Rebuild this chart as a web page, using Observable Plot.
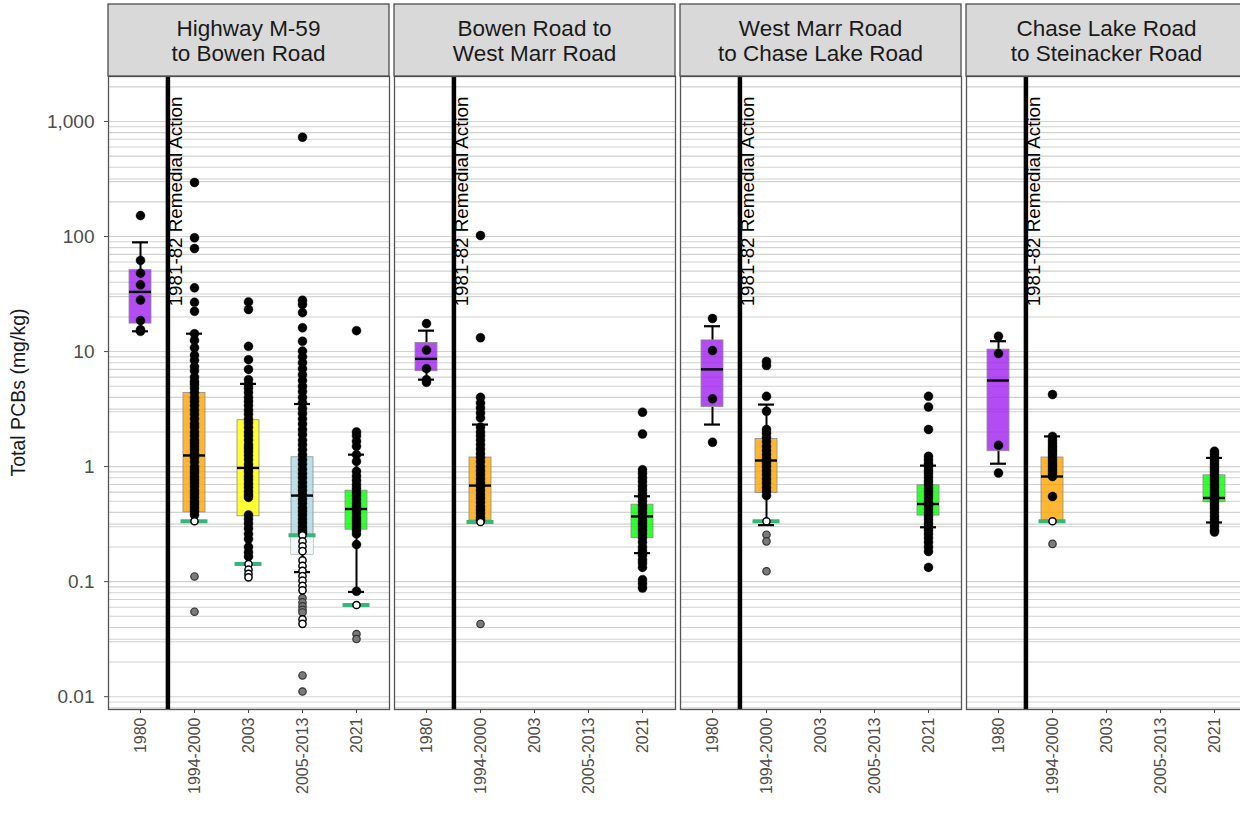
<!DOCTYPE html>
<html><head><meta charset="utf-8">
<script src="https://cdn.jsdelivr.net/npm/d3@7"></script>
<script src="https://cdn.jsdelivr.net/npm/@observablehq/plot@0.6"></script>
<style>
html,body{margin:0;padding:0;background:#fff;overflow:hidden}
#chart{width:1240px;height:828px;overflow:hidden}
</style>
</head><body><div id="chart"></div>
<script>
// ---------- categories ----------
const panels = ["Highway M-59 to Bowen Road", "Bowen Road to West Marr Road", "West Marr Road to Chase Lake Road", "Chase Lake Road to Steinacker Road"];
const stripLines = [["Highway M-59", "to Bowen Road"], ["Bowen Road to", "West Marr Road"], ["West Marr Road", "to Chase Lake Road"], ["Chase Lake Road", "to Steinacker Road"]];
const periods = ["1980", "1994-2000", "2003", "2005-2013", "2021"];
const periodColors = ["#A020F0", "#FFA500", "#FFFF00", "#ADD8E6", "#00FF00"];
const yTicks = [0.01, 0.1, 1, 10, 100, 1000];
const yTitle = "Total PCBs (mg/kg)";
const remedialLabel = "1981-82 Remedial Action";

// ---------- box statistics (panel index, period index) ----------
const boxPanel  = [0, 0, 0, 0, 0, 1, 1, 1, 2, 2, 2, 3, 3, 3];
const boxPeriod = [0, 1, 2, 3, 4, 0, 1, 4, 0, 1, 4, 0, 1, 4];
const boxLo  = [15,   0.335, 0.142, 0.121, 0.0814, 5.7,  0.33,  0.177, 2.32, 0.31, 0.297, 1.06, 0.335, 0.327];
const boxQ1  = [17.5, 0.40,  0.37,  0.172, 0.283,  6.74, 0.34,  0.24,  3.3,  0.59, 0.375, 1.36, 0.34,  0.49];
const boxMed = [33,   1.25,  0.974, 0.56,  0.428,  8.64, 0.684, 0.369, 7.0,  1.13, 0.473, 5.6,  0.82,  0.534];
const boxQ3  = [51,   4.36,  2.53,  1.205, 0.618,  11.9, 1.2,   0.467, 12.5, 1.74, 0.688, 10.4, 1.2,   0.84];
const boxHi  = [89,   14.3,  5.24,  3.5,   1.27,   15.2, 2.32,  0.552, 16.6, 3.46, 1.02,  12.3, 1.83,  1.19];

// ---------- detection limits ----------
const dlPanel  = [0, 0, 0, 0, 1, 2, 3];
const dlPeriod = [1, 2, 3, 4, 1, 1, 1];
const dlValue  = [0.335, 0.1425, 0.253, 0.0627, 0.33, 0.335, 0.335];

// ---------- sample values: [panel, period, values] ----------
const detected = [
  [0, 0, [152, 62, 48, 38, 28, 18.6, 15.5, 15]],
  [0, 1, [295, 97.5, 78.6, 35.8, 26.8, 22.4, 14.3, 12.5, 10.8, 9.3, 8.4, 7.4, 6.8, 6.0, 5.5, 5.2, 4.8, 4.4, 4.0, 3.7, 3.4, 3.1, 2.85, 2.6, 2.36, 2.2, 2.0, 1.85, 1.7, 1.6, 1.5, 1.4, 1.3, 1.2, 1.1, 1.0, 0.94, 0.88, 0.82, 0.77, 0.72, 0.67, 0.62, 0.58, 0.54, 0.5, 0.47, 0.44, 0.41, 0.38]],
  [0, 2, [27, 23.2, 11.1, 8.5, 7.0, 5.7, 5.2, 4.8, 4.4, 4.0, 3.7, 3.4, 3.1, 2.85, 2.6, 2.4, 2.2, 2.0, 1.85, 1.7, 1.55, 1.45, 1.35, 1.25, 1.15, 1.05, 0.97, 0.9, 0.83, 0.77, 0.71, 0.66, 0.61, 0.57, 0.54, 0.38, 0.35, 0.32, 0.29, 0.26, 0.235, 0.2, 0.18, 0.165]],
  [0, 3, [730, 27.9, 25.6, 21.8, 16.1, 12.3, 10.1, 9.0, 8.0, 7.1, 6.3, 5.6, 5.0, 4.5, 4.0, 3.6, 3.2, 2.9, 2.6, 2.35, 2.1, 1.9, 1.7, 1.55, 1.4, 1.27, 1.15, 1.05, 0.95, 0.87, 0.8, 0.73, 0.67, 0.62, 0.57, 0.52, 0.48, 0.44, 0.41, 0.38, 0.35, 0.325, 0.3, 0.28, 0.265]],
  [0, 4, [15.2, 2.0, 1.85, 1.66, 1.5, 1.27, 1.11, 0.91, 0.83, 0.76, 0.7, 0.65, 0.6, 0.56, 0.52, 0.48, 0.45, 0.42, 0.39, 0.36, 0.34, 0.32, 0.3, 0.28, 0.26, 0.21, 0.0825]],
  [1, 0, [17.5, 10.3, 7.1, 5.7, 5.4]],
  [1, 1, [102, 13.2, 4.0, 3.58, 3.23, 2.93, 2.65, 2.2, 2.0, 1.85, 1.7, 1.55, 1.42, 1.3, 1.2, 1.1, 1.0, 0.92, 0.85, 0.78, 0.72, 0.67, 0.62, 0.57, 0.53, 0.49, 0.45, 0.42, 0.39, 0.36, 0.34]],
  [1, 4, [2.97, 1.92, 0.94, 0.87, 0.8, 0.74, 0.68, 0.63, 0.58, 0.54, 0.5, 0.46, 0.43, 0.4, 0.37, 0.34, 0.32, 0.3, 0.28, 0.26, 0.24, 0.22, 0.2, 0.185, 0.17, 0.155, 0.145, 0.133, 0.104, 0.096, 0.088]],
  [2, 0, [19.4, 10.2, 3.88, 1.63]],
  [2, 1, [8.2, 7.55, 4.08, 3.03, 2.1, 1.95, 1.8, 1.65, 1.5, 1.38, 1.27, 1.17, 1.08, 1.0, 0.92, 0.85, 0.78, 0.72, 0.66, 0.61, 0.56]],
  [2, 4, [4.08, 3.3, 2.1, 1.23, 1.15, 1.07, 1.0, 0.93, 0.87, 0.81, 0.75, 0.7, 0.65, 0.61, 0.57, 0.53, 0.49, 0.46, 0.43, 0.4, 0.37, 0.345, 0.32, 0.3, 0.28, 0.26, 0.24, 0.22, 0.2, 0.183, 0.133]],
  [3, 0, [13.6, 9.6, 1.53, 0.88]],
  [3, 1, [4.23, 1.83, 1.7, 1.6, 1.5, 1.42, 1.35, 1.28, 1.2, 1.13, 1.06, 1.0, 0.94, 0.88, 0.82, 0.55]],
  [3, 4, [1.36, 1.28, 1.2, 1.12, 1.05, 0.98, 0.92, 0.86, 0.8, 0.75, 0.7, 0.66, 0.62, 0.58, 0.55, 0.52, 0.49, 0.46, 0.43, 0.4, 0.37, 0.345, 0.32, 0.3, 0.28, 0.27]]
];
const nonDetect = [
  [0, 1, [0.335]],
  [0, 2, [0.142, 0.127, 0.117, 0.109]],
  [0, 3, [0.253, 0.224, 0.203, 0.184, 0.153, 0.137, 0.124, 0.112, 0.102, 0.092, 0.084, 0.047, 0.043]],
  [0, 4, [0.0627]],
  [1, 1, [0.33]],
  [2, 1, [0.335]],
  [3, 1, [0.335]]
];
const belowLimit = [
  [0, 1, [0.111, 0.0548]],
  [0, 3, [0.072, 0.066, 0.061, 0.057, 0.054, 0.0153, 0.0111]],
  [0, 4, [0.035, 0.0317]],
  [1, 1, [0.0429]],
  [2, 1, [0.256, 0.224, 0.123]],
  [3, 1, [0.213]]
];

// ---------- build tables ----------
const boxes = boxPanel.map((p, i) => ({
  panel: panels[p], period: periods[boxPeriod[i]], color: periodColors[boxPeriod[i]],
  lo: boxLo[i], q1: boxQ1[i], med: boxMed[i], q3: boxQ3[i], hi: boxHi[i]
}));
const limits = dlPanel.map((p, i) => ({panel: panels[p], period: periods[dlPeriod[i]], dl: dlValue[i]}));
const shaded = limits.map(l => {
  const b = boxes.find(b => b.panel === l.panel && b.period === l.period);
  return b && b.q1 < l.dl ? {panel: l.panel, period: l.period, y1: b.q1, y2: l.dl} : null;
}).filter(d => d);
function rows(groups) {
  const out = [];
  for (const [p, t, vals] of groups) for (const v of vals) out.push({panel: panels[p], period: periods[t], value: v});
  return out;
}
const detRows = rows(detected), ndRows = rows(nonDetect), blRows = rows(belowLimit);
const remRows = panels.map(p => ({panel: p, period: periods[0]}));

// ---------- layout ----------
const W = 1247, H = 828, mL = 108, mT = 76, mB = 119;
const yDomain = [0.00774, 2460];
const panelW = 281, panelGap = 5;
const xPadIn = 0.59, xPadOut = 0.3565;
const xStep = panelW / (periods.length - xPadIn + 2 * xPadOut);
const font = "'Liberation Sans', Arial, Helvetica, sans-serif";

const gridValues = [];
for (const e of [-3, -2, -1, 0, 1, 2, 3]) {
  for (const m of [1, 2, 3, 4, 5, 6, 7, 8, 9]) gridValues.push(m * Math.pow(10, e));
  gridValues.push(Math.pow(10, e + 0.5));
}
const gridIn = gridValues.filter(v => v >= yDomain[0] && v <= yDomain[1]);

const chart = Plot.plot({
  width: W, height: H,
  marginLeft: mL, marginRight: 0, marginTop: mT, marginBottom: mB,
  style: {fontFamily: font, background: "white", maxWidth: "none"},
  fx: {domain: panels, paddingInner: panelGap / (panelW + panelGap), paddingOuter: 0, axis: null, label: null},
  x: {domain: periods, type: "band", paddingInner: xPadIn, paddingOuter: xPadOut, label: null},
  y: {type: "log", domain: yDomain, label: null},
  marks: [
    Plot.ruleY(gridIn, {stroke: "#d2d2d2", strokeWidth: 1.1}),
    // whiskers
    Plot.ruleX(boxes, {fx: "panel", x: "period", y1: "q3", y2: "hi", stroke: "black", strokeWidth: 2}),
    Plot.ruleX(boxes, {fx: "panel", x: "period", y1: "lo", y2: "q1", stroke: "black", strokeWidth: 2}),
    Plot.tickY(boxes, {fx: "panel", x: "period", y: "hi", stroke: "black", strokeWidth: 2.2, insetLeft: 3, insetRight: 3}),
    Plot.tickY(boxes, {fx: "panel", x: "period", y: "lo", stroke: "black", strokeWidth: 2.2, insetLeft: 3, insetRight: 3}),
    // boxes
    Plot.barY(boxes, {fx: "panel", x: "period", y1: "q1", y2: "q3", fill: "color", fillOpacity: 0.8, stroke: "#8c8c8c", strokeWidth: 0.8}),
    Plot.barY(shaded, {fx: "panel", x: "period", y1: "y1", y2: "y2", fill: "white", fillOpacity: 0.8}),
    // detection limits
    Plot.tickY(limits, {fx: "panel", x: "period", y: "dl", stroke: "#35b779", strokeWidth: 4, insetLeft: -2.5, insetRight: -2.5}),
    // points
    Plot.dot(detRows, {fx: "panel", x: "period", y: "value", r: 4.5, fill: "black", stroke: "black", strokeWidth: 0.4}),
    Plot.dot(blRows, {fx: "panel", x: "period", y: "value", r: 3.7, fill: "#7a7a7a", stroke: "#333", strokeWidth: 1.2}),
    Plot.dot(ndRows, {fx: "panel", x: "period", y: "value", r: 3.6, fill: "white", stroke: "black", strokeWidth: 1.5}),
    // medians
    Plot.tickY(boxes, {fx: "panel", x: "period", y: "med", stroke: "black", strokeWidth: 2.4}),
    // remedial action
    Plot.ruleX(remRows, {fx: "panel", x: "period", dx: xStep / 2, stroke: "black", strokeWidth: 4.5}),
    Plot.text(remRows, {fx: "panel", x: "period", frameAnchor: "top", dx: xStep / 2 + 1, dy: 20, rotate: -90, textAnchor: "end", lineAnchor: "top", text: () => remedialLabel, fontSize: 18.8, fill: "black"}),
    Plot.frame({stroke: "#555", strokeWidth: 1.3}),
    Plot.axisY(yTicks, {tickFormat: d3.format(","), fontSize: 19, tickSize: 4, tickPadding: 10, label: null, color: "#4d4d4d"}),
    Plot.axisX({tickRotate: -90, fontSize: 16, tickSize: 4, tickPadding: 4, label: null, color: "#4d4d4d"})
  ]
});
chart.style.maxWidth = "none";

// strips and y title
const svg = d3.select(chart);
const fxS = chart.scale("fx");
const bw = fxS.bandwidth != null ? fxS.bandwidth : panelW;
panels.forEach((p, i) => {
  const x0 = fxS.apply(p);
  const g = svg.append("g");
  g.append("rect").attr("x", x0).attr("y", 4).attr("width", bw).attr("height", mT - 4)
    .attr("fill", "#d9d9d9").attr("stroke", "#4d4d4d").attr("stroke-width", 1.3);
  g.append("text").attr("x", x0 + bw / 2).attr("y", 36).attr("text-anchor", "middle")
    .attr("font-size", 22.5).attr("fill", "#1a1a1a").attr("font-family", font).text(stripLines[i][0]);
  g.append("text").attr("x", x0 + bw / 2).attr("y", 61).attr("text-anchor", "middle")
    .attr("font-size", 22.5).attr("fill", "#1a1a1a").attr("font-family", font).text(stripLines[i][1]);
});
svg.append("text").attr("transform", `translate(25,${(mT + H - mB) / 2}) rotate(-90)`)
  .attr("text-anchor", "middle").attr("font-size", 19.5).attr("fill", "#1a1a1a")
  .attr("font-family", font).text(yTitle);

document.getElementById("chart").appendChild(chart);
</script>
</body></html>
